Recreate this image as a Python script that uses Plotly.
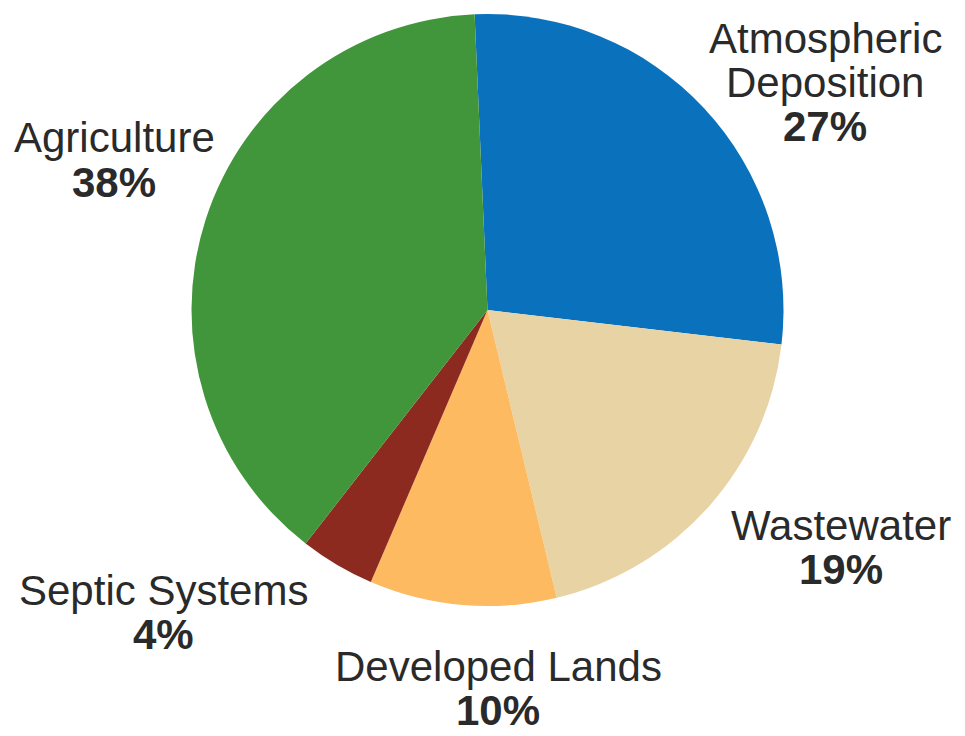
import plotly.graph_objects as go

# Data
categories = ["Atmospheric Deposition", "Wastewater", "Developed Lands", "Septic Systems", "Agriculture"]
label_lines = [["Atmospheric", "Deposition"], ["Wastewater"], ["Developed Lands"], ["Septic Systems"], ["Agriculture"]]
values = [27, 19, 10, 4, 38]
colors = ["#0A72BD", "#E8D3A4", "#FDBA60", "#8C2A1F", "#41963B"]

# Label layout (pixel centres of first line) — styling only
W, H = 965, 736
label_pos = [(817, 30), (833, 517), (490, 658), (155, 582), (106, 130)]
line_gap = 44

cx, cy, r = 479.5, 302, 296
fig = go.Figure(go.Pie(
    labels=categories,
    values=values,
    sort=False,
    direction="clockwise",
    rotation=-2.5,
    marker=dict(colors=colors, line=dict(width=0)),
    textinfo="none",
    hoverinfo="label+percent",
    showlegend=False,
    domain=dict(x=[(cx - r) / W, (cx + r) / W], y=[1 - (cy + r) / H, 1 - (cy - r) / H]),
))

annotations = []
for lines, v, (ax, ay) in zip(label_lines, values, label_pos):
    texts = list(lines) + [f"<b>{v}%</b>"]
    for i, t in enumerate(texts):
        annotations.append(dict(
            text=t, x=ax / W, y=1 - (ay + i * line_gap) / H,
            xref="paper", yref="paper", xanchor="center", yanchor="middle",
            showarrow=False,
            font=dict(family="Liberation Sans, Arial, sans-serif", size=42, color="#2a2a2a"),
        ))

fig.update_layout(
    width=W, height=H,
    margin=dict(l=0, r=0, t=0, b=0),
    paper_bgcolor="white", plot_bgcolor="white",
    annotations=annotations,
)

fig.write_html("out.html")
